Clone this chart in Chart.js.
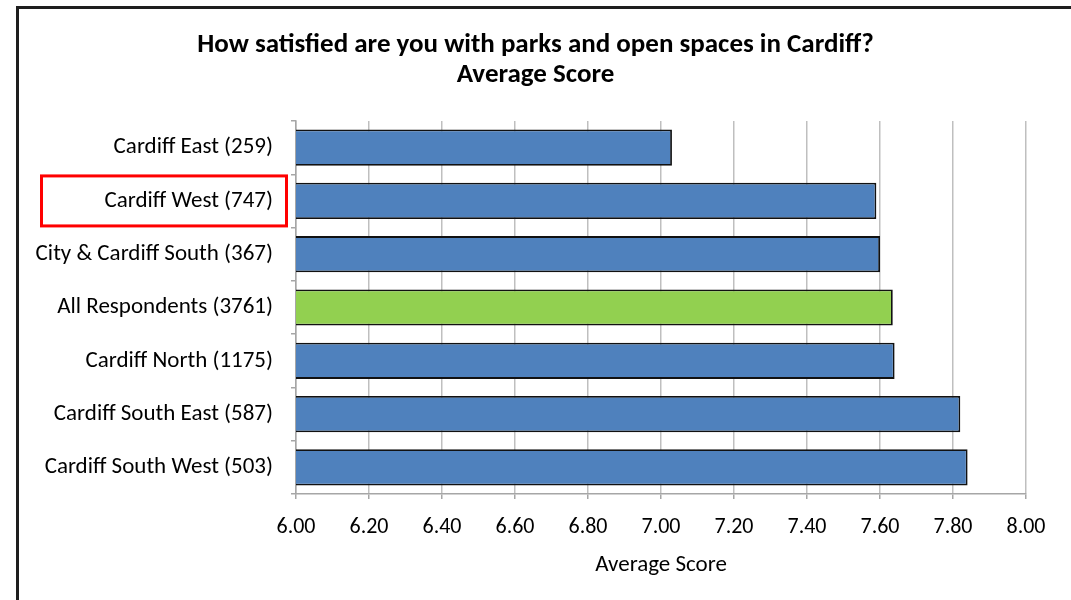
<!DOCTYPE html>
<html>
<head>
<meta charset="utf-8">
<script src="https://cdn.jsdelivr.net/npm/chart.js@4"></script>
<style>
    body { margin: 0; background: #fff; }
    #wrap { position: relative; width: 1071px; height: 600px; overflow: hidden; }
    #frame {
        position: absolute; left: 16px; top: 6px; width: 1100px; height: 700px;
        border-left: 3px solid #1e1e1e; border-top: 3px solid #1e1e1e;
        pointer-events: none;
    }
</style>
</head>
<body>
<div id="wrap">
    <canvas id="chart" width="1071" height="600"></canvas>
    <div id="frame"></div>
</div>
<script>
// Chart data
const areas = [
    'Cardiff East (259)',
    'Cardiff West (747)',
    'City & Cardiff South (367)',
    'All Respondents (3761)',
    'Cardiff North (1175)',
    'Cardiff South East (587)',
    'Cardiff South West (503)'
];
const scores = [7.03, 7.59, 7.60, 7.635, 7.64, 7.82, 7.84];
const highlightArea = 'All Respondents (3761)';
const boxedArea = 'Cardiff West (747)';

const chartTitle = ['How satisfied are you with parks and open spaces in Cardiff?', 'Average Score'];
const axisTitle = 'Average Score';
const scoreMin = 6, scoreMax = 8, scoreStep = 0.2;

const fontFamily = 'Calibri, Carlito, Lato, sans-serif';

// red box drawn round one category label
const labelBoxPlugin = {
    id: 'labelBox',
    afterDraw(chart) {
        const y = chart.scales.y;
        const idx = areas.indexOf(boxedArea);
        const cy = y.getPixelForValue(idx);
        const ctx = chart.ctx;
        ctx.save();
        ctx.strokeStyle = '#ff0000';
        ctx.lineWidth = 3;
        ctx.strokeRect(41.5, cy - 25, 245, 50);
        ctx.restore();
    }
};

const ctx = document.getElementById('chart').getContext('2d');
new Chart(ctx, {
    type: 'bar',
    data: {
        labels: areas,
        datasets: [{
            data: scores,
            backgroundColor: areas.map(a => a === highlightArea ? '#92d050' : '#4f81bd'),
            borderColor: '#111',
            borderWidth: 1.8,
            borderSkipped: false,
            barPercentage: 0.68,
            categoryPercentage: 1
        }]
    },
    options: {
        indexAxis: 'y',
        responsive: false,
        animation: false,
        layout: { padding: 0 },
        plugins: {
            legend: { display: false },
            tooltip: { enabled: false },
            title: {
                display: true,
                text: chartTitle,
                color: '#000',
                font: { family: fontFamily, size: 27, weight: 'bold', lineHeight: '30px' },
                padding: { top: 30, bottom: 31 }
            }
        },
        scales: {
            x: {
                min: scoreMin,
                max: scoreMax,
                ticks: {
                    stepSize: scoreStep,
                    color: '#000',
                    font: { family: fontFamily, size: 22 },
                    padding: 15,
                    callback: v => Number(v).toFixed(2)
                },
                grid: {
                    color: '#bfbfbf',
                    lineWidth: 1.5,
                    tickLength: 5,
                    tickColor: '#a6a6a6'
                },
                border: { color: '#a6a6a6', width: 1.5 },
                title: {
                    display: true,
                    text: axisTitle,
                    color: '#000',
                    font: { family: fontFamily, size: 23 },
                    padding: { top: 4, bottom: 21 }
                },
                afterFit(scale) { scale.height = 106; }
            },
            y: {
                ticks: {
                    color: '#000',
                    font: { family: fontFamily, size: 23 },
                    padding: 18
                },
                grid: {
                    offset: true,
                    drawOnChartArea: false,
                    tickLength: 5,
                    tickColor: '#a6a6a6',
                    lineWidth: 1.5
                },
                border: { color: '#a6a6a6', width: 1.5 },
                afterFit(scale) { scale.width = 296; }
            },
            // empty right-hand spacer so the plot stops short of the edge
            spacer: {
                type: 'linear',
                position: 'right',
                grid: { display: false, drawTicks: false },
                border: { display: false },
                ticks: { display: false },
                afterFit(scale) { scale.width = 45; }
            }
        }
    },
    plugins: [labelBoxPlugin]
});
</script>
</body>
</html>
